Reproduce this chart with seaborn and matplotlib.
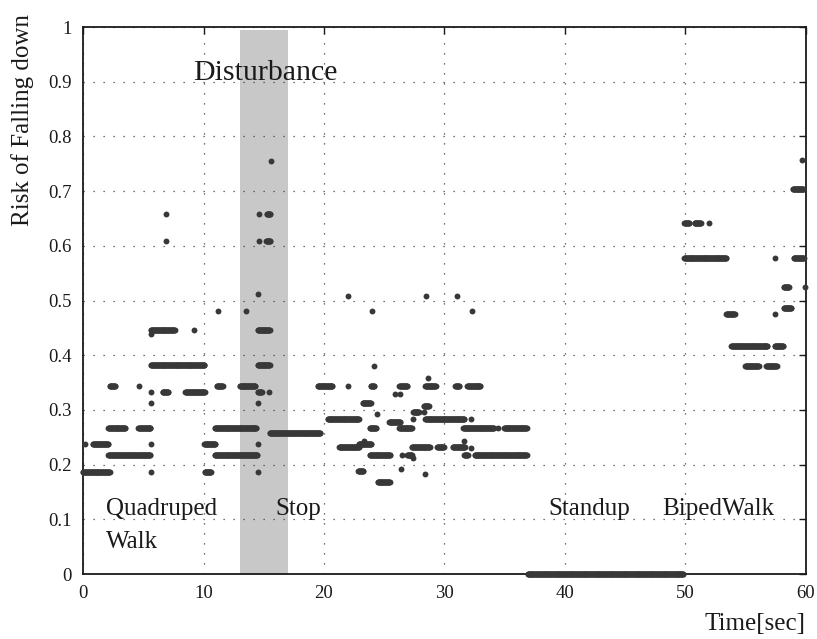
import numpy as np
import pandas as pd
import matplotlib
matplotlib.use("Agg")
import matplotlib.pyplot as plt
import matplotlib.ticker as mticker
import seaborn as sns

# run-length readings: start [s], end [s], risk value
# (start == end is a single sample)
seg_start = [
    0.0, 5.64, 10.1, 14.55, 2.1, 10.95, 0.17, 0.8, 5.64, 10.05, 14.55,
    2.1, 4.6, 10.95, 15.5, 5.64, 14.5, 5.64, 6.6, 8.5, 14.5, 15.45,
    2.24, 4.68, 11.1, 13.0, 5.64, 14.5, 5.64, 9.24, 14.5, 5.64, 11.2,
    13.5, 14.5, 14.6, 15.25, 14.6, 15.2, 15.57, 6.86, 6.86,
    19.5, 22.0, 23.9, 26.25, 28.4, 30.9, 31.9, 28.6, 24.15, 25.9, 26.3,
    23.2, 28.3, 27.4, 28.3, 24.4, 20.3, 27.4, 28.4, 32.2, 25.4, 23.8,
    26.25, 31.55, 34.4, 34.95, 23.3, 31.65, 22.9, 21.25, 27.3, 29.4,
    30.7, 32.2, 23.8, 26.5, 26.9, 31.65, 32.5, 27.4, 26.4, 22.85, 28.4,
    24.45, 22.0, 28.5, 31.0, 24.0, 32.3,
    36.9,
    49.9, 50.75, 51.95, 49.9, 57.4, 59.0, 58.15, 59.9, 58.15, 53.4,
    57.4, 53.8, 57.4, 54.95, 56.7, 58.9, 59.7,
]
seg_end = [
    2.2, 5.64, 10.65, 14.55, 5.6, 14.5, 0.17, 2.1, 5.64, 11.0, 14.55,
    3.5, 5.6, 14.4, 19.7, 5.64, 14.5, 5.64, 7.1, 10.1, 14.85, 15.45,
    2.7, 4.68, 11.6, 14.3, 10.1, 15.5, 7.6, 9.24, 15.5, 5.64, 11.2,
    13.5, 14.5, 14.6, 15.55, 14.6, 15.55, 15.57, 6.86, 6.86,
    20.7, 22.0, 24.2, 26.9, 29.3, 31.25, 33.0, 28.6, 24.15, 25.9, 26.3,
    23.9, 28.7, 27.9, 28.3, 24.4, 22.9, 27.4, 31.65, 32.2, 26.35, 24.35,
    27.3, 34.1, 34.4, 36.85, 23.3, 31.65, 23.9, 22.95, 28.8, 29.95,
    31.7, 32.2, 25.5, 26.5, 27.3, 31.95, 36.85, 27.4, 26.4, 23.25, 28.4,
    25.45, 22.0, 28.5, 31.0, 24.0, 32.3,
    49.85,
    50.3, 51.3, 51.95, 53.4, 57.4, 59.8, 58.6, 59.9, 58.8, 54.1,
    57.4, 56.8, 58.15, 56.1, 57.6, 59.8, 59.7,
]
seg_value = [
    0.186, 0.186, 0.186, 0.186, 0.2175, 0.2175, 0.237, 0.237, 0.237, 0.237, 0.237,
    0.267, 0.267, 0.267, 0.257, 0.313, 0.313, 0.333, 0.333, 0.333, 0.333, 0.333,
    0.344, 0.344, 0.344, 0.344, 0.383, 0.383, 0.446, 0.446, 0.446, 0.438, 0.481,
    0.481, 0.512, 0.659, 0.659, 0.609, 0.609, 0.755, 0.659, 0.609,
    0.344, 0.344, 0.344, 0.344, 0.344, 0.344, 0.344, 0.359, 0.381, 0.329, 0.329,
    0.313, 0.308, 0.296, 0.296, 0.2925, 0.283, 0.283, 0.283, 0.283, 0.277, 0.267,
    0.267, 0.267, 0.267, 0.267, 0.243, 0.243, 0.2375, 0.233, 0.233, 0.233,
    0.233, 0.23, 0.2175, 0.2175, 0.2175, 0.2175, 0.2175, 0.2125, 0.1925, 0.188, 0.182,
    0.168, 0.509, 0.509, 0.509, 0.481, 0.481,
    0.0,
    0.642, 0.642, 0.642, 0.577, 0.577, 0.577, 0.524, 0.524, 0.486, 0.475,
    0.475, 0.417, 0.417, 0.38, 0.38, 0.703, 0.756,
]

sample_dt = 0.04  # logging period of the estimator

phase_labels = ["Quadruped", "Walk", "Stop", "Standup", "BipedWalk"]
phase_x = [1.9, 1.9, 16.0, 38.6, 48.1]
phase_y = [0.118, 0.058, 0.118, 0.118, 0.118]

disturb_start, disturb_end = 13.0, 17.0

# decode the runs into samples
rows = []
for t0, t1, v in zip(seg_start, seg_end, seg_value):
    ts = np.arange(t0, t1 + 1e-9, sample_dt) if t1 > t0 else [t0]
    for t in ts:
        rows.append((t, v))
df = pd.DataFrame(rows, columns=["time", "risk"])

sns.set_style("white")
plt.rcParams["font.family"] = ["Liberation Serif", "DejaVu Serif"]

fig = plt.figure(figsize=(8.17, 6.39), dpi=100)
ax = fig.add_axes([0.1016, 0.1017, 0.8849, 0.856])

ax.axvspan(disturb_start, disturb_end, ymax=0.995, color="#c8c8c8", lw=0, zorder=0.2)
ax.grid(True, linestyle=(0, (1, 7)), linewidth=0.9, color="#444444")

sns.scatterplot(data=df, x="time", y="risk", s=18, color="#383838",
                linewidth=0, edgecolor=None, ax=ax, zorder=3, clip_on=False)

ax.set_xlim(0, 60)
ax.set_ylim(0, 1)
ax.set_xticks(np.arange(0, 61, 10))
ax.set_yticks(np.arange(0, 1.01, 0.1))
ax.yaxis.set_major_formatter(mticker.FuncFormatter(lambda v, p: "%g" % round(v, 1)))
ax.tick_params(direction="in", top=True, right=True, length=5, width=1,
               labelsize=13.5, colors="#1a1a1a", pad=8)
for sp in ax.spines.values():
    sp.set_linewidth(1.3)
    sp.set_color("#1a1a1a")

ax.set_xlabel("Time[sec]", fontsize=18, loc="right", color="#1a1a1a", labelpad=8)
ax.set_ylabel("Risk of Falling down", fontsize=18, color="#1a1a1a")
ax.yaxis.set_label_coords(-0.068, 0.83)

ax.text(9.13, 0.916, "Disturbance", fontsize=21.5, va="center", ha="left", color="#1a1a1a")
for lab, x, y in zip(phase_labels, phase_x, phase_y):
    ax.text(x, y, lab, fontsize=18, va="center", ha="left", color="#1a1a1a")

fig.savefig("out.png", dpi=100)
